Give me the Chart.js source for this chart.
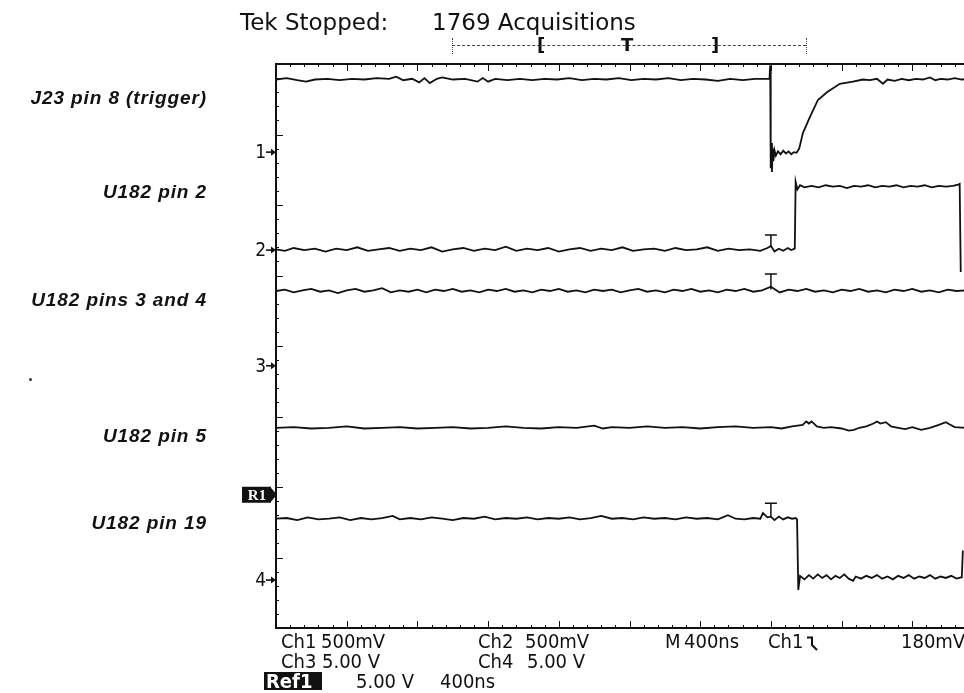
<!DOCTYPE html>
<html>
<head>
<meta charset="utf-8">
<script src="https://cdn.jsdelivr.net/npm/chart.js@4.4.0/dist/chart.umd.min.js"></script>
<style>
body{margin:0;width:964px;height:693px;overflow:hidden;position:relative;background:#fff;color:#111}
#scope{position:absolute;left:0;top:0}
.lbl{position:absolute;left:0;width:207px;text-align:right;font:italic bold 19px "Liberation Sans",Arial,sans-serif;line-height:19px;letter-spacing:0.9px}
.tek{position:absolute;font:23px "DejaVu Sans",sans-serif;line-height:23px;white-space:nowrap}
.rd{position:absolute;font:20px "DejaVu Sans Condensed","DejaVu Sans",sans-serif;line-height:20px;white-space:nowrap}
.bar{position:absolute;left:452px;top:45px;width:354px;border-top:1px dashed #444}
.end{position:absolute;top:38px;height:16px;border-left:1px dotted #444}
.brk{position:absolute;top:35px;font:bold 18px "DejaVu Sans",sans-serif;line-height:20px}
</style>
</head>
<body>
<canvas id="scope" width="1000" height="693"></canvas>

<div class="tek" style="left:240px;top:11px">Tek Stopped:</div>
<div class="tek" style="left:432px;top:11px">1769 Acquisitions</div>
<div class="bar"></div>
<div class="end" style="left:452px"></div>
<div class="end" style="left:806px"></div>
<div class="brk" style="left:537px">[</div>
<div class="brk" style="left:621px">T</div>
<div class="brk" style="left:711px">]</div>

<div class="lbl" style="top:88px">J23 pin 8 (trigger)</div>
<div class="lbl" style="top:182px">U182 pin 2</div>
<div class="lbl" style="top:290px">U182 pins 3 and 4</div>
<div class="lbl" style="top:426px">U182 pin 5</div>
<div class="lbl" style="top:513px">U182 pin 19</div>
<div style="position:absolute;left:29px;top:378px;width:3px;height:3px;background:#333;border-radius:2px"></div>

<div class="rd" style="left:281px;top:631px">Ch1</div>
<div class="rd" style="left:321px;top:631px">500mV</div>
<div class="rd" style="left:478px;top:631px">Ch2</div>
<div class="rd" style="left:525px;top:631px">500mV</div>
<div class="rd" style="left:665px;top:631px">M</div>
<div class="rd" style="left:684px;top:631px">400ns</div>
<div class="rd" style="left:768px;top:631px">Ch1</div>
<svg style="position:absolute;left:806px;top:635px" width="14" height="16"><path d="M1 2.5H6V10L11 15" fill="none" stroke="#111" stroke-width="2"/></svg>
<div class="rd" style="left:901px;top:631px">180mV</div>
<div class="rd" style="left:281px;top:651px">Ch3</div>
<div class="rd" style="left:322px;top:651px">5.00 V</div>
<div class="rd" style="left:478px;top:651px">Ch4</div>
<div class="rd" style="left:527px;top:651px">5.00 V</div>
<div class="rd" style="left:264px;top:672px;width:58px;height:18px;background:#111;color:#fff;font-weight:bold;padding-left:2px;box-sizing:border-box;line-height:18px">Ref1</div>
<div class="rd" style="left:356px;top:671px">5.00 V</div>
<div class="rd" style="left:440px;top:671px">400ns</div>

<script>
// time axis: ns relative to trigger, 400 ns/div, 10 divisions
const X_MIN = -2800;
const X_MAX = 1200;
const NS_PER_DIV = 400;
// vertical axis: screen divisions, center = 0
const Y_MIN = -4;
const Y_MAX = 4;

// [time ns, divisions]
const ch1 = [
  [-2800,3.78],[-2740,3.80],[-2680,3.77],[-2630,3.75],[-2580,3.78],[-2510,3.79],[-2440,3.77],[-2370,3.79],
  [-2300,3.78],[-2230,3.80],[-2160,3.79],[-2120,3.82],[-2080,3.77],[-2030,3.79],[-1990,3.74],[-1960,3.80],
  [-1930,3.73],[-1890,3.79],[-1860,3.81],[-1800,3.78],[-1730,3.79],[-1660,3.75],[-1630,3.80],[-1600,3.75],
  [-1560,3.79],[-1490,3.77],[-1420,3.79],[-1350,3.77],[-1280,3.79],[-1210,3.78],[-1140,3.80],[-1070,3.77],
  [-1000,3.79],[-930,3.78],[-860,3.80],[-790,3.77],[-720,3.79],[-650,3.78],[-580,3.80],[-510,3.77],
  [-440,3.79],[-370,3.78],[-300,3.76],[-230,3.79],[-160,3.77],[-90,3.79],[-8,3.79],[-4,3.98],
  [-1,2.52],[3,2.88],[6,2.47],[10,2.80],[14,2.62],[20,2.78],[28,2.70],[40,2.76],[55,2.72],[70,2.77],
  [85,2.73],[100,2.76],[115,2.72],[130,2.75],[145,2.74],[160,2.80],[181,3.02],[221,3.25],[266,3.49],
  [317,3.60],[390,3.72],[464,3.75],[520,3.78],[560,3.77],[600,3.79],[634,3.72],[660,3.78],[700,3.76],
  [740,3.79],[780,3.77],[820,3.79],[860,3.78],[900,3.81],[930,3.77],[960,3.79],[1000,3.78],[1040,3.80],
  [1080,3.78],[1120,3.79]
];
const ch2 = [
  [-2800,1.37],[-2750,1.35],[-2700,1.39],[-2640,1.36],[-2580,1.38],[-2520,1.34],[-2460,1.38],[-2400,1.36],
  [-2340,1.40],[-2280,1.35],[-2220,1.37],[-2160,1.39],[-2100,1.35],[-2040,1.38],[-1980,1.36],[-1920,1.40],
  [-1860,1.34],[-1800,1.37],[-1740,1.39],[-1680,1.35],[-1620,1.38],[-1560,1.36],[-1500,1.41],[-1440,1.35],
  [-1380,1.38],[-1320,1.36],[-1260,1.39],[-1200,1.34],[-1140,1.37],[-1080,1.39],[-1020,1.35],[-960,1.38],
  [-900,1.36],[-840,1.40],[-780,1.35],[-720,1.37],[-660,1.38],[-600,1.35],[-540,1.39],[-480,1.36],
  [-420,1.37],[-360,1.40],[-300,1.35],[-240,1.38],[-180,1.36],[-120,1.37],[-60,1.35],[-20,1.39],
  [0,1.42],[20,1.34],[45,1.38],[70,1.35],[95,1.39],[115,1.36],[135,1.38],[140,2.33],[150,2.22],
  [165,2.28],[190,2.25],[230,2.27],[270,2.25],[310,2.28],[350,2.26],[390,2.27],[430,2.24],[470,2.27],
  [510,2.26],[550,2.28],[590,2.25],[630,2.27],[670,2.26],[710,2.28],[750,2.25],[790,2.27],[830,2.26],
  [870,2.28],[910,2.25],[950,2.27],[990,2.26],[1030,2.27],[1060,2.29],[1068,2.30],[1074,1.05]
];
const ch3 = [
  [-2800,0.78],[-2750,0.80],[-2700,0.76],[-2650,0.79],[-2600,0.81],[-2550,0.77],[-2500,0.79],[-2450,0.75],
  [-2400,0.79],[-2350,0.81],[-2300,0.77],[-2250,0.79],[-2200,0.82],[-2150,0.76],[-2100,0.79],[-2050,0.77],
  [-2000,0.80],[-1950,0.76],[-1900,0.80],[-1850,0.78],[-1800,0.81],[-1750,0.77],[-1700,0.79],[-1650,0.76],
  [-1600,0.80],[-1550,0.78],[-1500,0.81],[-1450,0.77],[-1400,0.79],[-1350,0.76],[-1300,0.80],[-1250,0.78],
  [-1200,0.81],[-1150,0.77],[-1100,0.79],[-1050,0.76],[-1000,0.80],[-950,0.78],[-900,0.80],[-850,0.76],
  [-800,0.79],[-750,0.81],[-700,0.77],[-650,0.79],[-600,0.76],[-550,0.80],[-500,0.78],[-450,0.81],
  [-400,0.77],[-350,0.79],[-300,0.76],[-250,0.80],[-200,0.78],[-150,0.81],[-100,0.77],[-50,0.79],
  [0,0.84],[50,0.76],[100,0.80],[150,0.78],[200,0.81],[250,0.77],[300,0.79],[350,0.76],[400,0.80],
  [450,0.78],[500,0.81],[550,0.77],[600,0.79],[650,0.76],[700,0.80],[750,0.78],[800,0.81],[850,0.77],
  [900,0.79],[950,0.76],[1000,0.80],[1050,0.78],[1100,0.79],[1150,0.78]
];
const pin5 = [
  [-2800,-1.16],[-2700,-1.15],[-2600,-1.17],[-2500,-1.16],[-2400,-1.14],[-2300,-1.17],[-2200,-1.16],
  [-2100,-1.15],[-2000,-1.17],[-1900,-1.16],[-1800,-1.15],[-1700,-1.17],[-1600,-1.16],[-1500,-1.14],
  [-1400,-1.16],[-1300,-1.17],[-1200,-1.15],[-1100,-1.16],[-1000,-1.13],[-950,-1.17],[-900,-1.15],
  [-800,-1.16],[-700,-1.14],[-600,-1.16],[-500,-1.15],[-400,-1.17],[-300,-1.15],[-200,-1.14],
  [-100,-1.16],[0,-1.15],[60,-1.17],[120,-1.14],[180,-1.12],[200,-1.07],[215,-1.10],[230,-1.07],
  [260,-1.14],[300,-1.16],[340,-1.15],[400,-1.17],[440,-1.20],[470,-1.19],[500,-1.16],[540,-1.14],
  [580,-1.10],[600,-1.07],[620,-1.10],[650,-1.08],[680,-1.14],[720,-1.16],[760,-1.18],[800,-1.15],
  [850,-1.19],[900,-1.16],[950,-1.12],[990,-1.08],[1010,-1.11],[1040,-1.15],[1100,-1.16],[1150,-1.15]
];
const pin19 = [
  [-2800,-2.45],[-2740,-2.44],[-2680,-2.47],[-2620,-2.43],[-2560,-2.46],[-2500,-2.45],[-2440,-2.43],
  [-2380,-2.47],[-2320,-2.44],[-2260,-2.46],[-2200,-2.44],[-2140,-2.41],[-2100,-2.46],[-2040,-2.44],
  [-1980,-2.46],[-1920,-2.43],[-1860,-2.45],[-1800,-2.47],[-1740,-2.44],[-1680,-2.45],[-1620,-2.42],
  [-1560,-2.46],[-1500,-2.44],[-1440,-2.45],[-1380,-2.43],[-1320,-2.46],[-1260,-2.44],[-1200,-2.45],
  [-1140,-2.43],[-1080,-2.46],[-1020,-2.44],[-960,-2.41],[-900,-2.45],[-840,-2.44],[-780,-2.46],
  [-720,-2.43],[-660,-2.45],[-600,-2.44],[-540,-2.46],[-480,-2.43],[-420,-2.45],[-360,-2.44],
  [-300,-2.46],[-243,-2.40],[-200,-2.45],[-150,-2.46],[-100,-2.44],[-60,-2.45],[-45,-2.37],
  [-20,-2.43],[0,-2.42],[20,-2.47],[45,-2.42],[70,-2.46],[95,-2.43],[120,-2.45],[140,-2.44],
  [148,-2.46],[155,-3.46],[165,-3.26],[190,-3.31],[215,-3.25],[240,-3.30],[265,-3.24],[290,-3.29],
  [315,-3.25],[340,-3.31],[365,-3.26],[390,-3.29],[415,-3.24],[440,-3.30],[465,-3.33],[480,-3.27],
  [510,-3.30],[540,-3.26],[570,-3.29],[600,-3.25],[630,-3.30],[660,-3.27],[690,-3.31],[720,-3.26],
  [750,-3.29],[780,-3.25],[810,-3.30],[840,-3.27],[870,-3.29],[900,-3.25],[930,-3.30],[960,-3.27],
  [990,-3.29],[1020,-3.26],[1050,-3.30],[1080,-3.28],[1086,-2.90]
];

// channel ground markers on the left edge
const groundLabels = ['1', '2', '3', '4'];
const groundLevels = [2.75, 1.36, -0.28, -3.32];
const refLevel = -2.11;
// trigger "T" marks at t = 0: [bar level, trace level]
const trigMarks = [[1.575, 1.40], [1.02, 0.80], [-2.23, -2.43]];

const toXY = arr => arr.map(p => ({x: p[0], y: p[1]}));

const scopeFrame = {
  id: 'scopeFrame',
  afterDatasetsDraw(chart) {
    const {ctx, chartArea: a, scales: {x, y}} = chart;
    ctx.save();
    ctx.strokeStyle = '#111';
    ctx.fillStyle = '#111';
    ctx.lineWidth = 1;
    ctx.beginPath();
    for (let t = X_MIN; t <= X_MAX; t += NS_PER_DIV / 5) {
      const px = Math.round(x.getPixelForValue(t)) + 0.5;
      const len = (t % NS_PER_DIV === 0) ? 7 : 3;
      ctx.moveTo(px, a.top); ctx.lineTo(px, a.top + len);
      ctx.moveTo(px, a.bottom); ctx.lineTo(px, a.bottom - len);
    }
    for (let i = Y_MIN * 5; i <= Y_MAX * 5; i++) {
      const py = Math.round(y.getPixelForValue(i / 5)) + 0.5;
      const len = (i % 5 === 0) ? 7 : 3;
      ctx.moveTo(a.left, py); ctx.lineTo(a.left + len, py);
    }
    ctx.stroke();

    ctx.lineWidth = 2;
    ctx.strokeRect(a.left, a.top, a.right - a.left, a.bottom - a.top);

    // trigger T marks
    ctx.lineWidth = 1.5;
    ctx.beginPath();
    trigMarks.forEach(m => {
      const cx = x.getPixelForValue(0);
      const top = y.getPixelForValue(m[0]);
      ctx.moveTo(cx - 6, top); ctx.lineTo(cx + 6, top);
      ctx.moveTo(cx, top); ctx.lineTo(cx, y.getPixelForValue(m[1]));
    });
    ctx.stroke();

    // ground markers
    ctx.font = '19px "DejaVu Sans Condensed", "DejaVu Sans", sans-serif';
    ctx.textAlign = 'right';
    ctx.textBaseline = 'middle';
    groundLevels.forEach((lv, i) => {
      const py = y.getPixelForValue(lv);
      ctx.fillText(groundLabels[i], a.left - 10, py + 1);
      ctx.beginPath();
      ctx.lineWidth = 1.6;
      ctx.moveTo(a.left - 10, py); ctx.lineTo(a.left - 3, py);
      ctx.stroke();
      ctx.beginPath();
      ctx.moveTo(a.left, py); ctx.lineTo(a.left - 5, py - 3.5); ctx.lineTo(a.left - 5, py + 3.5);
      ctx.fill();
    });

    // reference marker
    const ry = y.getPixelForValue(refLevel);
    ctx.fillRect(a.left - 34, ry - 8, 29, 16);
    ctx.beginPath();
    ctx.moveTo(a.left - 6, ry - 8); ctx.lineTo(a.left + 1, ry); ctx.lineTo(a.left - 6, ry + 8);
    ctx.fill();
    ctx.fillStyle = '#fff';
    ctx.font = 'bold 15px "Liberation Serif", serif';
    ctx.textAlign = 'center';
    ctx.fillText('R1', a.left - 19, ry + 1);
    ctx.restore();
  }
};

const trace = d => ({
  data: toXY(d), showLine: true, borderColor: '#111', borderWidth: 1.8,
  pointRadius: 0, tension: 0, fill: false
});

new Chart(document.getElementById('scope'), {
  type: 'scatter',
  data: { datasets: [trace(ch1), trace(ch2), trace(ch3), trace(pin5), trace(pin19)] },
  options: {
    responsive: false,
    animation: false,
    layout: { padding: { left: 276, top: 64, right: 17, bottom: 65 } },
    scales: {
      x: { type: 'linear', min: X_MIN, max: X_MAX, display: false },
      y: { type: 'linear', min: Y_MIN, max: Y_MAX, display: false }
    },
    plugins: { legend: { display: false }, tooltip: { enabled: false } }
  },
  plugins: [scopeFrame]
});
</script>
</body>
</html>
